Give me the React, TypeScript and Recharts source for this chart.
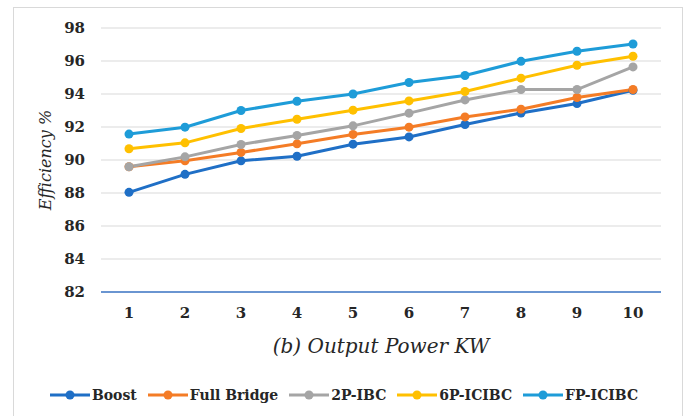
import React from 'react';
import { LineChart, Line, XAxis, YAxis, CartesianGrid, Legend } from 'recharts';

const powerKW = [1, 2, 3, 4, 5, 6, 7, 8, 9, 10];

const boost = [88.04, 89.13, 89.95, 90.23, 90.96, 91.4, 92.15, 92.85, 93.42, 94.23];
const fullBridge = [89.59, 89.95, 90.46, 90.98, 91.55, 91.99, 92.61, 93.08, 93.79, 94.27];
const ibc2p = [89.59, 90.19, 90.94, 91.49, 92.07, 92.84, 93.64, 94.27, 94.27, 95.64];
const icibc6p = [90.68, 91.04, 91.91, 92.47, 93.02, 93.58, 94.15, 94.96, 95.74, 96.29];
const fpIcibc = [91.57, 91.99, 93.0, 93.56, 94.0, 94.7, 95.12, 95.98, 96.59, 97.03];

const yTicks = [82, 84, 86, 88, 90, 92, 94, 96, 98];

const SERIES = [
  { key: 'boost', name: 'Boost', color: '#1F6FC6', values: boost },
  { key: 'fullBridge', name: 'Full Bridge', color: '#F47C26', values: fullBridge },
  { key: 'ibc2p', name: '2P-IBC', color: '#A5A5A5', values: ibc2p },
  { key: 'icibc6p', name: '6P-ICIBC', color: '#FFC000', values: icibc6p },
  { key: 'fpIcibc', name: 'FP-ICIBC', color: '#1E9CD8', values: fpIcibc },
];

const data = powerKW.map((p, i) => {
  const row: Record<string, number> = { power: p };
  SERIES.forEach((s) => {
    row[s.key] = s.values[i];
  });
  return row;
});

const FONT = 'DejaVu Serif, serif';

const LegendRow = () => (
  <div style={{ display: 'flex', justifyContent: 'center', alignItems: 'center', fontFamily: FONT, fontWeight: 700, fontSize: 14, color: '#262626', paddingLeft: 38 }}>
    {SERIES.map((s) => (
      <div key={s.key} style={{ display: 'flex', alignItems: 'center', marginRight: 11 }}>
        <svg width={40} height={12} style={{ marginRight: 2 }}>
          <line x1={0} y1={6} x2={40} y2={6} stroke={s.color} strokeWidth={3} />
          <circle cx={20} cy={6} r={4.5} fill={s.color} />
        </svg>
        <span>{s.name}</span>
      </div>
    ))}
  </div>
);

const App: React.FC = () => {
  return (
    <div style={{ position: 'absolute', left: 0, top: 0, width: 686, height: 416, background: '#fff', overflow: 'hidden' }}>
      <style>{'body{margin:0}'}</style>
      {/* chart frame */}
      <div style={{ position: 'absolute', left: 13, top: 7, width: 668, height: 430, border: '1px solid #d9d9d9' }} />
      <div style={{ position: 'absolute', left: 0, top: 0 }}>
        <LineChart width={686} height={416} data={data} margin={{ top: 28, right: 25, left: 0, bottom: 34 }}>
          <CartesianGrid vertical={false} stroke="#d9d9d9" strokeWidth={1.2} />
          <XAxis
            dataKey="power"
            type="category"
            padding={{ left: 28, right: 28 }}
            height={70}
            axisLine={{ stroke: '#3F78C8', strokeWidth: 1.5 }}
            tickLine={false}
            tickSize={0}
            tickMargin={15}
            tick={{ fill: '#262626', fontFamily: FONT, fontWeight: 700, fontSize: 15 }}
            label={{ value: '(b) Output Power KW', position: 'insideBottom', offset: 9, fill: '#262626', fontFamily: FONT, fontStyle: 'italic', fontSize: 20 }}
          />
          <YAxis
            domain={[82, 98]}
            ticks={yTicks}
            width={101}
            axisLine={false}
            tickLine={false}
            tickSize={0}
            tickMargin={16}
            tick={{ fill: '#262626', fontFamily: FONT, fontWeight: 700, fontSize: 15 }}
            label={{ value: 'Efficiency %', angle: -90, position: 'insideLeft', offset: 45, textAnchor: 'middle', fill: '#262626', fontFamily: FONT, fontStyle: 'italic', fontSize: 16 }}
          />
          <Legend height={20} wrapperStyle={{ top: 387, bottom: 'auto' }} content={() => <LegendRow />} />
          {SERIES.map((s) => (
            <Line
              key={s.key}
              dataKey={s.key}
              name={s.name}
              stroke={s.color}
              strokeWidth={3}
              dot={{ r: 4.5, fill: s.color, stroke: s.color, strokeWidth: 0 }}
              activeDot={false}
              isAnimationActive={false}
            />
          ))}
        </LineChart>
      </div>
    </div>
  );
};

export default App;
